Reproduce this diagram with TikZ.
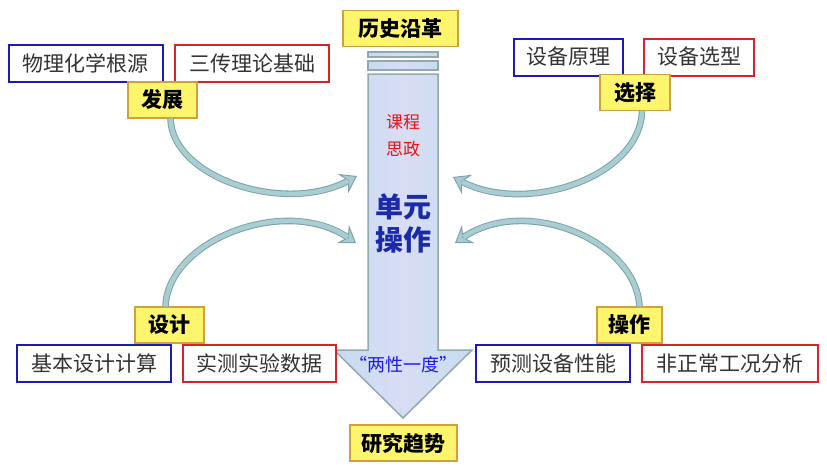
\documentclass[tikz,border=0pt]{standalone}
\usepackage{fontspec}
\setmainfont{Noto Sans CJK SC}
\usetikzlibrary{arrows.meta,positioning,calc}
\definecolor{ylwfill}{HTML}{FDF56C}
\definecolor{ylwedge}{HTML}{CFA040}
\definecolor{bluedge}{HTML}{1C1CB4}
\definecolor{rededge}{HTML}{D42626}
\definecolor{txtgray}{HTML}{333333}
\definecolor{shaftedge}{HTML}{93A9AF}
\definecolor{shaftl}{HTML}{C8DAF1}
\definecolor{shaftm}{HTML}{D8DDF4}
\definecolor{shaftr}{HTML}{C6DDEF}
\definecolor{swoopfill}{HTML}{A8CDD2}
\definecolor{swoopedge}{HTML}{7FA2A7}
\definecolor{kcred}{HTML}{F01010}
\definecolor{dyblue}{HTML}{1A2AA8}
\definecolor{lxblue}{HTML}{1A1AF0}

\begin{document}
\begin{tikzpicture}[
  x=1pt,y=-1pt,
  node distance=10pt,
  tag/.style={draw=ylwedge,fill=ylwfill,line width=1.2pt,minimum height=36pt,inner sep=0pt,font=\fontsize{21}{24}\selectfont\bfseries},
  item/.style={draw,fill=white,line width=2pt,minimum height=37pt,inner sep=0pt,text=txtgray,font=\fontsize{21}{24}\selectfont},
  bitem/.style={item,draw=bluedge},
  ritem/.style={item,draw=rededge},
  shaft/.style={draw=shaftedge,line width=1.5pt,left color=shaftl,right color=shaftr,middle color=shaftm},
  swoop/.style={draw=swoopfill,line width=4.6pt,shorten >=10pt,
    preaction={draw=swoopedge,line width=6.6pt,shorten >=0pt,
      -{Stealth[length=16pt,width=22pt,inset=6pt,line width=1pt,fill=swoopfill]}}}
]
\useasboundingbox (0,0) rectangle (827,469);
% ---------- central arrow ----------
\draw[shaft] (368,52) rectangle (438,57);
\draw[shaft] (368,61) rectangle (438,70);
\draw[shaft] (368,74) -- (438,74) -- (438,350) -- (472,350) -- (403,418) -- (334,350) -- (368,350) -- cycle;
\node[tag,minimum width=115pt] (ls) at (400.5,28.5) {历史沿革};
\node[tag,minimum width=107pt] (yj) at (403.5,443) {研究趋势};
\node[font=\fontsize{17}{27}\selectfont,text=kcred,align=center] (kc) at (403,136) {课程\\思政};
\node[font=\fontsize{28}{33}\selectfont\bfseries,text=dyblue,align=center] (dy) at (403,223) {单元\\操作};
\node[font=\fontsize{18}{20}\selectfont,text=lxblue] (lx) at (403,365) {“两性一度”};
% ---------- four corners ----------
\node[bitem,minimum width=154pt] (wl) at (86,63.5) {物理化学根源};
\node[ritem,minimum width=154pt,right=of wl] (sc) {三传理论基础};
\node[tag,minimum width=69pt] (fz) at (162.5,100) {发展};
\node[bitem,minimum width=109pt] (yl) at (568.5,57) {设备原理};
\node[ritem,minimum width=110pt,right=19pt of yl] (xx) {设备选型};
\node[tag,minimum width=70pt] (xz) at (635,92.5) {选择};
\node[bitem,minimum width=154pt] (jb) at (94,363.5) {基本设计计算};
\node[ritem,minimum width=153pt,right=of jb] (sy) {实测实验数据};
\node[tag,minimum width=69pt] (sj) at (169.5,325) {设计};
\node[bitem,minimum width=154pt] (yc) at (553,363.5) {预测设备性能};
\node[ritem,minimum width=176pt,right=of yc] (fc) {非正常工况分析};
\node[tag,minimum width=65pt] (cz) at (629.5,325) {操作};
% ---------- curved arrows into the shaft ----------
\coordinate (in1) at (357,176);
\coordinate (in2) at (356,243);
\coordinate (in3) at (453,177);
\coordinate (in4) at (455,243);
\draw[swoop] ($(fz.south)+(8,0)$) .. controls (172,178) and (285,215) .. (in1);
\draw[swoop] ($(sj.north)+(-4,0)$) .. controls (168,240) and (285,195) .. (in2);
\draw[swoop] ($(xz.south)+(7,0)$) .. controls (640,178) and (525,215) .. (in3);
\draw[swoop] ($(cz.north)+(10,0)$) .. controls (636,240) and (525,195) .. (in4);
\end{tikzpicture}
\end{document}
